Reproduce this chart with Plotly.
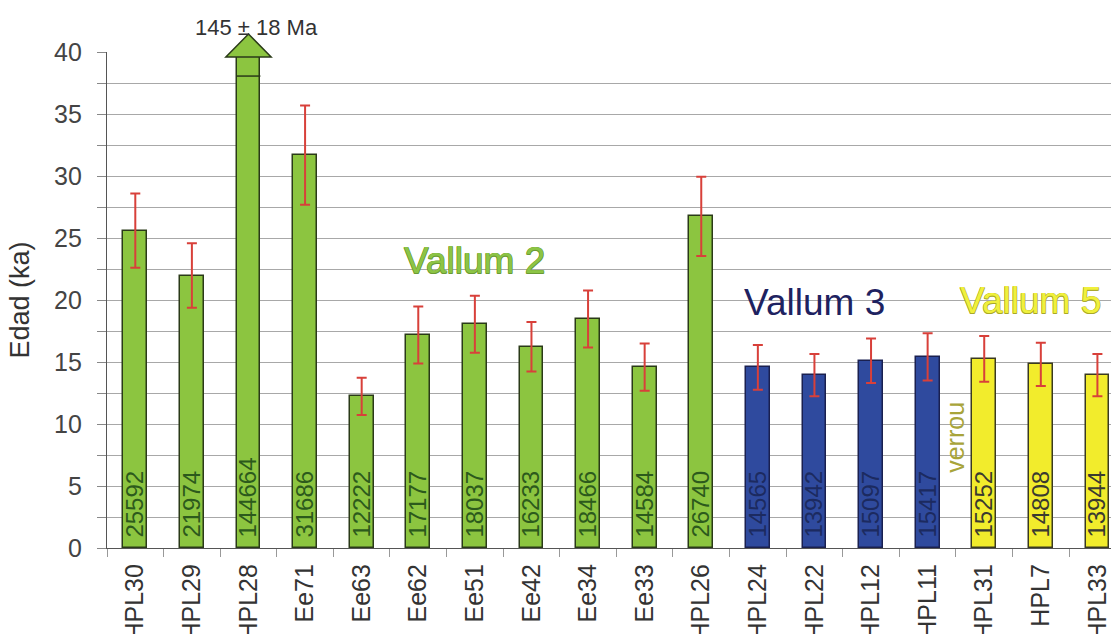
import plotly.graph_objects as go

# Samples, ages (years) and 1-sigma uncertainties (ka)
samples = ["HPL30", "HPL29", "HPL28", "Ee71", "Ee63", "Ee62", "Ee51", "Ee42", "Ee34",
           "Ee33", "HPL26", "HPL24", "HPL22", "HPL12", "HPL11", "HPL31", "HPL7", "HPL33"]
ages_yr = [25592, 21974, 144664, 31686, 12222, 17177, 18037, 16233, 18466,
           14584, 26740, 14565, 13942, 15097, 15417, 15252, 14808, 13944]
errors_ka = [3.0, 2.6, None, 4.0, 1.5, 2.3, 2.3, 2.0, 2.3,
             1.9, 3.2, 1.8, 1.7, 1.8, 1.9, 1.85, 1.75, 1.7]
groups = ["Vallum 2"] * 11 + ["Vallum 3"] * 4 + ["Vallum 5"] * 3

# HPL28 is off-scale: its true age is shown as a label over an arrow
offscale_sample = "HPL28"
offscale_label = "145 ± 18 Ma"
offscale_cut_ka = 38.06

y_max = 40
x_range = [-0.5, 17.24]

fill = {"Vallum 2": "#8cc540", "Vallum 3": "#2f4a9e", "Vallum 5": "#f2ec2c"}
edge = {"Vallum 2": "#2a3a18", "Vallum 3": "#1a2050", "Vallum 5": "#3a3a20"}
label_col = {"Vallum 2": "#2c5a1c", "Vallum 3": "#1c2a60", "Vallum 5": "#3a3a30"}

ages_ka = [a / 1000 for a in ages_yr]
err_plot = [e if e is not None else float("nan") for e in errors_ka]

FONT = "Liberation Sans, Arial, sans-serif"

fig = go.Figure()
fig.add_trace(go.Bar(
    x=samples,
    y=ages_ka,
    width=0.42,
    marker=dict(color=[fill[g] for g in groups],
                line=dict(color=[edge[g] for g in groups], width=1.5)),
    error_y=dict(type="data", array=err_plot, visible=True,
                 color="#d8403a", thickness=2, width=5),
    # a non-breaking space lifts each label a little off the baseline
    text=["\u00a0" + str(a) for a in ages_yr],
    textposition="inside",
    insidetextanchor="start",
    textangle=-90,
    constraintext="none",
    insidetextfont=dict(family=FONT, size=24, color=[label_col[g] for g in groups]),
    hoverinfo="x+y",
    showlegend=False,
))

# Arrow head on the off-scale bar (x in data units, y in paper units)
i_off = samples.index(offscale_sample)
def ypaper(v):
    return v / y_max

head_base, head_tip, half_w = 39.6, 41.45, 0.40
fig.add_shape(
    type="path", xref="x", yref="paper", layer="above",
    path=(f"M {i_off - half_w},{ypaper(head_base)} "
          f"L {i_off + half_w},{ypaper(head_base)} "
          f"L {i_off},{ypaper(head_tip)} Z"),
    fillcolor=fill["Vallum 2"], line=dict(color=edge["Vallum 2"], width=1.5),
)
fig.add_shape(
    type="line", xref="x", yref="y", layer="above",
    x0=i_off - 0.21, x1=i_off + 0.21, y0=offscale_cut_ka, y1=offscale_cut_ka,
    line=dict(color=edge["Vallum 2"], width=1.5),
)
fig.add_annotation(
    x=i_off, xref="x", y=1, yref="paper", yanchor="bottom", xshift=8, yshift=10,
    text=offscale_label, showarrow=False,
    font=dict(family=FONT, size=22, color="#333333"),
)

# Group labels
group_text = [
    dict(text="Vallum 2", x=6.0, y=23.2, fill="#8cc445", outline="#6a9a34"),
    dict(text="Vallum 3", x=12.0, y=19.8, fill="#1e2260", outline=None),
    dict(text="Vallum 5", x=15.82, y=20.0, fill="#f0f03c", outline="#a8a828"),
]
for g in group_text:
    o = g["outline"]
    font = dict(family=FONT, size=37, color=g["fill"])
    if o:
        font["shadow"] = (f"-0.5px -0.5px 0 {o}, 0.5px -0.5px 0 {o}, "
                          f"-0.5px 0.5px 0 {o}, 0.5px 0.5px 0 {o}")
    fig.add_annotation(
        x=g["x"], y=g["y"], xref="x", yref="y", text=g["text"], showarrow=False,
        font=font,
    )
fig.add_annotation(
    x=14.48, y=8.95, xref="x", yref="y", text="verrou", showarrow=False,
    textangle=-90, font=dict(family=FONT, size=25, color="#a8a43a"),
)

fig.update_layout(
    width=1111, height=634,
    margin=dict(l=107, r=0, t=52, b=86),
    paper_bgcolor="white", plot_bgcolor="white",
    bargap=0,
    font=dict(family=FONT, color="#333333"),
)
fig.update_xaxes(
    type="category", range=x_range, automargin=False,
    showline=True, linecolor="#555555", linewidth=1.2,
    ticks="outside", tickson="boundaries", ticklen=8, tickcolor="#999999",
    tickangle=-90, tickfont=dict(family=FONT, size=25, color="#333333"),
    showgrid=False, ticklabelstandoff=5,
)
fig.update_yaxes(
    range=[0, y_max], automargin=False,
    dtick=5, tick0=0,
    showline=True, linecolor="#555555", linewidth=1.2,
    ticks="outside", ticklen=9, tickcolor="#888888",
    showgrid=True, gridcolor="#a8a8a8", gridwidth=1,
    minor=dict(dtick=2.5, showgrid=True, gridcolor="#a8a8a8", gridwidth=1,
               ticks="outside", ticklen=9, tickcolor="#888888"),
    zeroline=False,
    tickfont=dict(family=FONT, size=25, color="#444444"),
    ticklabelstandoff=10,
    title=dict(text="Edad (ka)", font=dict(family=FONT, size=27, color="#333333"),
               standoff=16),
)

fig.write_html("out.html")
